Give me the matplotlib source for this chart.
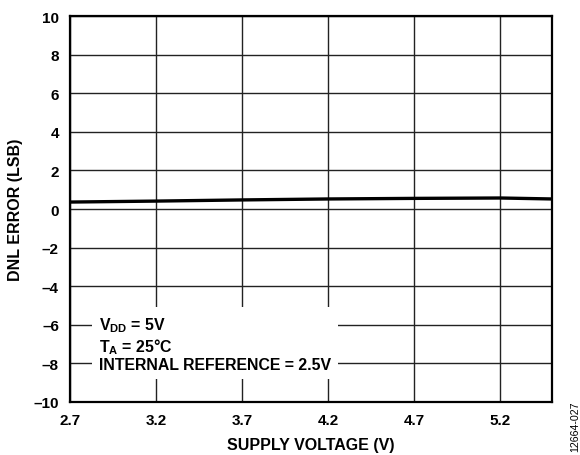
import matplotlib
matplotlib.use("Agg")
import matplotlib.pyplot as plt

# 數據
supply_v = [2.7, 3.2, 3.7, 4.2, 4.7, 5.2, 5.5]
dnl_err = [0.36, 0.41, 0.47, 0.52, 0.55, 0.57, 0.52]

xticks = [2.7, 3.2, 3.7, 4.2, 4.7, 5.2]
yticks = [-10, -8, -6, -4, -2, 0, 2, 4, 6, 8, 10]
ytick_labels = [str(v).replace("-", "\u2013") for v in yticks]

plt.rcParams["font.family"] = ["Liberation Sans", "DejaVu Sans"]
plt.rcParams["font.weight"] = "bold"
plt.rcParams["mathtext.fontset"] = "custom"
plt.rcParams["mathtext.rm"] = "Liberation Sans:bold"
plt.rcParams["mathtext.bf"] = "Liberation Sans:bold"
plt.rcParams["mathtext.it"] = "Liberation Sans:bold"

fig = plt.figure(figsize=(5.8, 4.56), dpi=100)
ax = fig.add_axes([70 / 580, 1 - 403 / 456, 482 / 580, 386 / 456])

ax.plot(supply_v, dnl_err, color="black", lw=2.4, solid_capstyle="butt", zorder=3)

ax.set_xlim(2.7, 5.5)
ax.set_ylim(-10, 10)
ax.set_xticks(xticks)
ax.set_xticklabels([str(v) for v in xticks])
ax.set_yticks(yticks)
ax.set_yticklabels(ytick_labels)
ax.tick_params(length=0, labelsize=11)
ax.tick_params(axis="x", pad=8)
ax.tick_params(axis="y", pad=8)
ax.grid(color="#222222", lw=1.0)
ax.set_axisbelow(True)
for s in ax.spines.values():
    s.set_linewidth(1.6)

ax.text(2.87, -7.0,
        "$\\mathrm{V_{DD}}$ = 5V\n$\\mathrm{T_A}$ = 25°C\nINTERNAL REFERENCE = 2.5V",
        fontsize=11.4, fontweight="bold", va="center", ha="left", linespacing=1.12,
        bbox=dict(facecolor="white", edgecolor="none", pad=5), zorder=4)

fig.text(311 / 580, 1 - 446 / 456, "SUPPLY VOLTAGE (V)", ha="center", va="center",
         fontsize=11.5, fontweight="bold")
fig.text(16 / 580, 1 - 210 / 456, "DNL ERROR (LSB)", ha="center", va="center",
         rotation=90, fontsize=11.5, fontweight="bold")
fig.text(575 / 580, 1 - 427 / 456, "12664-027", ha="center", va="center",
         rotation=90, fontsize=7.7, fontweight="normal")

fig.savefig("out.png", dpi=100)
